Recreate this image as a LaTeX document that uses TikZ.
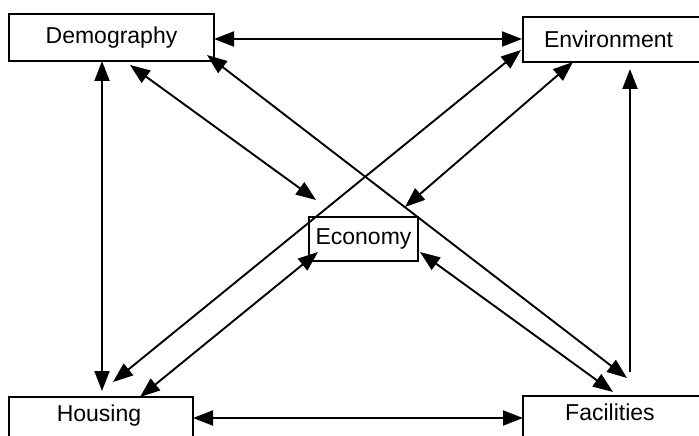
\documentclass[tikz,border=0pt]{standalone}
\usepackage{fontspec}
\setmainfont{Liberation Sans}
\usetikzlibrary{arrows.meta}
\tikzset{
  box/.style={draw, line width=1.8pt, inner sep=0pt, font=\fontsize{23}{27}\selectfont},
  link/.style={line width=1.9pt, {Triangle[length=20pt,width=15pt]}-{Triangle[length=20pt,width=15pt]}},
  uplink/.style={line width=2.2pt, -{Triangle[length=20pt,width=15pt]}},
}
\begin{document}
\begin{tikzpicture}[x=1pt,y=-1pt]
\useasboundingbox (0,0) rectangle (699,436);
\clip (0,0) rectangle (699,436);
% boxes
\node[box, minimum width=205pt, minimum height=47pt] (dem) at (111.5,37.5) {Demography};
\node[box, minimum width=182pt, minimum height=45pt, text width=182pt, align=left] (env) at (614,39.5) {\hspace{21pt}Environment};
\node[box, minimum width=109pt, minimum height=44pt] (eco) at (363.5,239) {Economy};
\node[box, minimum width=184pt, minimum height=50pt] (hou) at (101,422) {};
\node[box, minimum width=182pt, minimum height=50pt] (fac) at (614,421) {};
\node[font=\fontsize{23}{27}\selectfont, anchor=base, inner sep=0pt] (houtxt) at (99,421) {Housing};
\node[font=\fontsize{23}{27}\selectfont, anchor=base west, inner sep=0pt] (factxt) at (565,420) {Facilities};
% endpoints
\coordinate (dE) at (214,39);
\coordinate (eD) at (522,39);
\coordinate (dH) at (102,61);
\coordinate (hD) at (102,391);
\coordinate (dC) at (130,65);
\coordinate (cD) at (316,200);
\coordinate (dF) at (207,55);
\coordinate (fD) at (627,378);
\coordinate (eH) at (521,50);
\coordinate (hE) at (113,382);
\coordinate (eC) at (573,62);
\coordinate (cE) at (405,207);
\coordinate (cH) at (318,252);
\coordinate (hC) at (140,397);
\coordinate (cF) at (420,252);
\coordinate (fC) at (613,392);
\coordinate (hF) at (193,418);
\coordinate (fH) at (523,418);
\coordinate (fE) at (630,372);
\coordinate (eF) at (630,69);
% connectors
\draw[link] (dE) -- (eD);
\draw[link] (dH) -- (hD);
\draw[link] (dC) -- (cD);
\draw[link] (dF) -- (fD);
\draw[link] (eH) -- (hE);
\draw[link] (eC) -- (cE);
\draw[link] (cH) -- (hC);
\draw[link] (cF) -- (fC);
\draw[link] (hF) -- (fH);
\draw[uplink] (fE) -- (eF);
\end{tikzpicture}
\end{document}
